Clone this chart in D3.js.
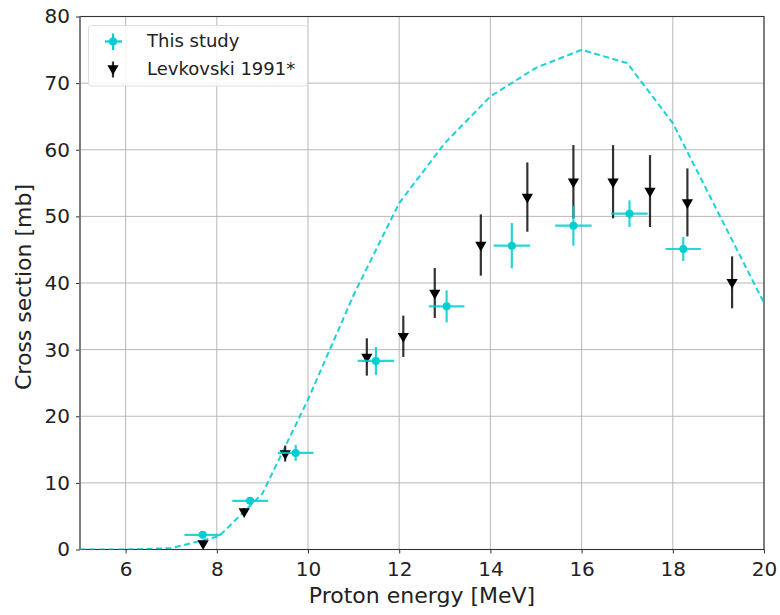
<!DOCTYPE html>
<html><head><meta charset="utf-8">
<script src="https://cdn.jsdelivr.net/npm/d3@7"></script>
<style>body{margin:0;background:#fff;} text{font-family:"DejaVu Sans",sans-serif;}</style>
</head><body><div id="chart"></div>
<script>
// Theory curve (dashed)
const theoryE = [5, 6, 7, 8.05, 9, 10, 11, 12, 13, 14, 15, 16, 17, 18, 19, 20];
const theoryXS = [0, 0, 0.2, 2.0, 8.4, 22.5, 38.2, 52, 61, 68, 72.3, 75, 73, 64, 50.5, 37];
// This study
const studyE = [7.69, 8.73, 9.73, 11.49, 13.04, 14.47, 15.82, 17.05, 18.23];
const studyXS = [2.2, 7.3, 14.5, 28.3, 36.5, 45.6, 48.6, 50.4, 45.1];
const studyEerr = [0.4, 0.39, 0.39, 0.4, 0.39, 0.4, 0.4, 0.4, 0.39];
const studyXSerr = [0.4, 0.5, 1.2, 2.1, 2.4, 3.4, 3.0, 2.0, 1.8];
// Levkovski 1991*
const levE = [7.7, 8.6, 9.5, 11.29, 12.09, 12.78, 13.79, 14.81, 15.82, 16.69, 17.5, 18.32, 19.3];
const levXS = [0.9, 5.7, 14.4, 28.9, 32.0, 38.5, 45.7, 52.9, 55.2, 55.2, 53.8, 52.1, 40.1];
const levXSerr = [0.4, 0.5, 1.2, 2.8, 3.1, 3.75, 4.6, 5.2, 5.5, 5.5, 5.4, 5.1, 3.9];
const xTicks = [6, 8, 10, 12, 14, 16, 18, 20];
const yTicks = [0, 10, 20, 30, 40, 50, 60, 70, 80];

const W = 780, H = 615;
const m = {l: 80, r: 16, t: 16.5, b: 65.5};
const svg = d3.select("#chart").append("svg").attr("width", W).attr("height", H);
const x = d3.scaleLinear().domain([5, 20]).range([m.l, W - m.r]);
const y = d3.scaleLinear().domain([0, 80]).range([H - m.b, m.t]);
const cyan = "#00CED1";

// grid
const g = svg.append("g");
g.selectAll(".gx").data(xTicks).join("line")
  .attr("x1", d => x(d)).attr("x2", d => x(d)).attr("y1", y(0)).attr("y2", y(80))
  .attr("stroke", "#b0b0b0").attr("stroke-width", 0.9);
g.selectAll(".gy").data(yTicks).join("line")
  .attr("x1", x(5)).attr("x2", x(20)).attr("y1", d => y(d)).attr("y2", d => y(d))
  .attr("stroke", "#b0b0b0").attr("stroke-width", 0.9);

// axes
const xAxis = svg.append("g").attr("transform", `translate(0,${y(0)})`)
  .call(d3.axisBottom(x).tickValues(xTicks).tickSize(4).tickPadding(8.3));
const yAxis = svg.append("g").attr("transform", `translate(${x(5)},0)`)
  .call(d3.axisLeft(y).tickValues(yTicks).tickSize(4).tickPadding(6));
[xAxis, yAxis].forEach(a => {
  a.selectAll("text").attr("font-size", 20).attr("fill", "#222").attr("font-family", "DejaVu Sans");
  a.selectAll("line").attr("stroke", "#333");
  a.select(".domain").attr("stroke", "none");
});
// spines
svg.append("rect").attr("x", x(5)).attr("y", y(80)).attr("width", x(20) - x(5)).attr("height", y(0) - y(80))
  .attr("fill", "none").attr("stroke", "#333").attr("stroke-width", 1.1);
svg.append("line").attr("x1", x(5)).attr("x2", x(5)).attr("y1", y(0)).attr("y2", y(80))
  .attr("stroke", "#777").attr("stroke-width", 1.4);

// theory line
svg.append("clipPath").attr("id", "clip").append("rect")
  .attr("x", x(5)).attr("y", y(80)).attr("width", x(20) - x(5)).attr("height", y(0) - y(80));
svg.append("path").attr("clip-path", "url(#clip)")
  .datum(theoryE.map((e, i) => [e, theoryXS[i]]))
  .attr("d", d3.line().x(d => x(d[0])).y(d => y(d[1])))
  .attr("fill", "none").attr("stroke", cyan).attr("stroke-width", 2).attr("stroke-dasharray", "6,3.5").attr("opacity", 0.9);

// Levkovski error bars and markers
const lev = svg.append("g");
levE.forEach((e, i) => {
  lev.append("line").attr("x1", x(e)).attr("x2", x(e))
    .attr("y1", y(levXS[i] - levXSerr[i])).attr("y2", y(levXS[i] + levXSerr[i]))
    .attr("stroke", "#000").attr("stroke-width", 2.2).attr("opacity", 0.8);
});
const tri = d3.symbol().type(d3.symbolTriangle).size(55);
levE.forEach((e, i) => {
  lev.append("path").attr("d", tri).attr("transform", `translate(${x(e)},${y(levXS[i])}) rotate(180)`)
    .attr("fill", "#000");
});

// This study
const st = svg.append("g");
studyE.forEach((e, i) => {
  st.append("line").attr("x1", x(e - studyEerr[i])).attr("x2", x(e + studyEerr[i]))
    .attr("y1", y(studyXS[i])).attr("y2", y(studyXS[i]))
    .attr("stroke", cyan).attr("stroke-width", 2.2).attr("opacity", 0.85);
  st.append("line").attr("x1", x(e)).attr("x2", x(e))
    .attr("y1", y(studyXS[i] - studyXSerr[i])).attr("y2", y(studyXS[i] + studyXSerr[i]))
    .attr("stroke", cyan).attr("stroke-width", 2.2).attr("opacity", 0.85);
  st.append("circle").attr("cx", x(e)).attr("cy", y(studyXS[i])).attr("r", 4).attr("fill", cyan);
});

// legend
const lg = svg.append("g");
lg.append("rect").attr("x", 88.5).attr("y", 25.5).attr("width", 219).attr("height", 60.5).attr("rx", 3)
  .attr("fill", "#fff").attr("fill-opacity", 0.85).attr("stroke", "#ddd");
const lx = 113;
lg.append("line").attr("x1", lx - 8).attr("x2", lx + 9).attr("y1", 41.5).attr("y2", 41.5).attr("stroke", cyan).attr("stroke-width", 2.2);
lg.append("line").attr("x1", lx).attr("x2", lx).attr("y1", 33.5).attr("y2", 50).attr("stroke", cyan).attr("stroke-width", 2.2);
lg.append("circle").attr("cx", lx).attr("cy", 41.5).attr("r", 4).attr("fill", cyan);
lg.append("line").attr("x1", lx).attr("x2", lx).attr("y1", 61.5).attr("y2", 77.5).attr("stroke", "#000").attr("stroke-width", 2.2).attr("opacity", 0.8);
lg.append("path").attr("d", tri).attr("transform", `translate(${lx},68.5) rotate(180)`).attr("fill", "#000");
lg.append("text").attr("x", 147).attr("y", 46.5).attr("font-size", 18).attr("fill", "#222").text("This study");
lg.append("text").attr("x", 147).attr("y", 75).attr("font-size", 18).attr("fill", "#222").text("Levkovski 1991*");

// axis labels
svg.append("text").attr("x", (x(5) + x(20)) / 2).attr("y", 603).attr("text-anchor", "middle")
  .attr("font-size", 22).attr("fill", "#222").text("Proton energy [MeV]");
svg.append("text").attr("transform", `translate(31,${(y(0) + y(80)) / 2 + 4}) rotate(-90)`).attr("text-anchor", "middle")
  .attr("font-size", 22).attr("fill", "#222").text("Cross section [mb]");
</script></body></html>
